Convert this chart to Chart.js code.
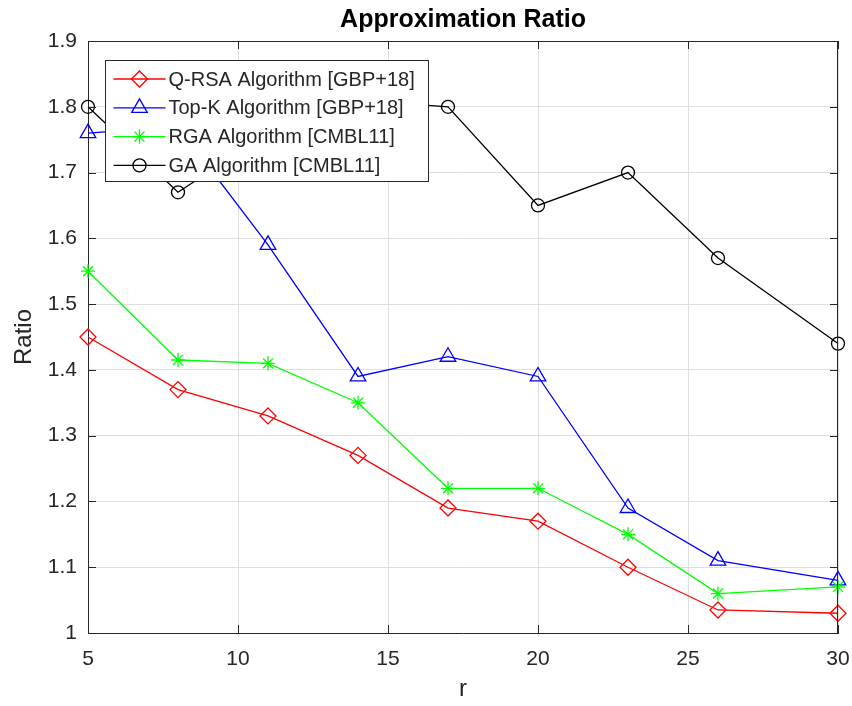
<!DOCTYPE html>
<html>
<head>
<meta charset="utf-8">
<title>Approximation Ratio</title>
<script src="https://cdn.jsdelivr.net/npm/chart.js@4.4.1/dist/chart.umd.min.js"></script>
<style>
  html, body { margin: 0; padding: 0; background: #fff; }
  #wrap { width: 852px; height: 706px; }
</style>
</head>
<body>
<div id="wrap"><canvas id="ratioChart" width="852" height="706"></canvas></div>
<script>
// r values on the x axis
const rValues = [5, 8, 11, 14, 17, 20, 23, 26, 30];

// approximation ratio per algorithm
const qrsaRatio = [1.45, 1.37, 1.33, 1.27, 1.19, 1.17, 1.10, 1.035, 1.03];
const topkRatio = [1.76, 1.77, 1.59, 1.39, 1.42, 1.39, 1.19, 1.11, 1.08];
const rgaRatio = [1.55, 1.415, 1.41, 1.35, 1.22, 1.22, 1.15, 1.06, 1.07];
const gaRatio = [1.80, 1.67, 1.76, 1.81, 1.80, 1.65, 1.70, 1.57, 1.44];

const xTicks = [5, 10, 15, 20, 25, 30];
const yTicks = [1.0, 1.1, 1.2, 1.3, 1.4, 1.5, 1.6, 1.7, 1.8, 1.9];

const chartTitle = "Approximation Ratio";

const FONT = "'Liberation Sans', Arial, Helvetica, sans-serif";
const AXIS_COLOR = "#262626";

function toPoints(values) {
  return rValues.map((r, i) => ({ x: r, y: values[i] }));
}

function series(label, values, color, pointStyle, radius, order) {
  return {
    label: label,
    data: toPoints(values),
    borderColor: color,
    borderWidth: 1.3,
    pointStyle: pointStyle,
    pointRadius: radius,
    pointBorderColor: color,
    pointBackgroundColor: "rgba(0,0,0,0)",
    pointBorderWidth: 1.3,
    tension: 0,
    clip: false,
    order: order,
  };
}

// title centred over the plot area, box round it and inward tick marks
const framePlugin = {
  id: "frame",
  afterDraw(chart) {
    const { ctx, chartArea: a } = chart;
    const xs = chart.scales.x, ys = chart.scales.y;
    const len = 8;
    ctx.save();
    ctx.fillStyle = "#000";
    ctx.font = "bold 25px " + FONT;
    ctx.textAlign = "center";
    ctx.textBaseline = "middle";
    ctx.fillText(chartTitle, (a.left + a.right) / 2, a.top - 21);

    ctx.strokeStyle = AXIS_COLOR;
    ctx.lineWidth = 1;
    ctx.beginPath();
    ctx.moveTo(a.left, a.top + 0.5);
    ctx.lineTo(a.right, a.top + 0.5);
    ctx.moveTo(a.right - 0.5, a.top);
    ctx.lineTo(a.right - 0.5, a.bottom);
    xTicks.forEach((v) => {
      const px = Math.round(xs.getPixelForValue(v)) + 0.5;
      ctx.moveTo(px, a.bottom);
      ctx.lineTo(px, a.bottom - len);
      ctx.moveTo(px, a.top);
      ctx.lineTo(px, a.top + len);
    });
    yTicks.forEach((v) => {
      const py = Math.round(ys.getPixelForValue(v)) + 0.5;
      ctx.moveTo(a.left, py);
      ctx.lineTo(a.left + len, py);
      ctx.moveTo(a.right, py);
      ctx.lineTo(a.right - len, py);
    });
    ctx.stroke();
    ctx.restore();
  },
};

// legend box drawn inside the upper left of the plot
const insideLegend = {
  id: "insideLegend",
  afterDraw(chart) {
    const { ctx, chartArea: a } = chart;
    const datasets = chart.data.datasets;
    ctx.save();
    ctx.font = "20px " + FONT;
    const textW = Math.max(...datasets.map((d) => ctx.measureText(d.label).width));
    const x0 = Math.round(a.left + 17) + 0.5;
    const y0 = Math.round(a.top + 19) + 0.5;
    const rowH = 28.8;
    const w = Math.round(63 + textW + 14);
    const h = Math.round(18.5 + rowH * (datasets.length - 1) + 16);
    ctx.fillStyle = "#fff";
    ctx.fillRect(x0, y0, w, h);
    ctx.strokeStyle = AXIS_COLOR;
    ctx.lineWidth = 1;
    ctx.strokeRect(x0, y0, w, h);

    datasets.forEach((d, i) => {
      const cy = y0 + 18.5 + i * rowH;
      ctx.strokeStyle = d.borderColor;
      ctx.lineWidth = d.borderWidth;
      ctx.beginPath();
      ctx.moveTo(x0 + 8, cy);
      ctx.lineTo(x0 + 60, cy);
      ctx.stroke();
      ctx.fillStyle = "rgba(0,0,0,0)";
      Chart.helpers.drawPoint(ctx, {
        pointStyle: d.pointStyle,
        radius: d.pointRadius,
        borderWidth: d.pointBorderWidth,
        rotation: 0,
      }, x0 + 34, cy);
      ctx.fillStyle = AXIS_COLOR;
      ctx.textBaseline = "middle";
      ctx.textAlign = "left";
      ctx.fillText(d.label, x0 + 63, cy + 1);
    });
    ctx.restore();
  },
};

const ctx = document.getElementById("ratioChart").getContext("2d");

const ratioChart = new Chart(ctx, {
  type: "line",
  data: {
    datasets: [
      series("Q-RSA Algorithm [GBP+18]", qrsaRatio, "#ff0000", "rectRot", 8, 4),
      series("Top-K Algorithm [GBP+18]", topkRatio, "#0000ff", "triangle", 9, 3),
      series("RGA Algorithm [CMBL11]", rgaRatio, "#00ff00", "star", 7, 2),
      series("GA Algorithm [CMBL11]", gaRatio, "#000000", "circle", 6.5, 1),
    ],
  },
  options: {
    responsive: false,
    animation: false,
    devicePixelRatio: 1,
    layout: { padding: { left: 0, right: 0, top: 41, bottom: 0 } },
    plugins: {
      legend: { display: false },
      tooltip: { enabled: false },
      title: { display: false },
    },
    scales: {
      x: {
        type: "linear",
        min: 5,
        max: 30,
        afterBuildTicks: (scale) => {
          scale.ticks = xTicks.map((v) => ({ value: v }));
        },
        afterFit: (scale) => {
          scale.height = 73;
          scale.paddingLeft = 0;
          scale.paddingRight = 14;
        },
        grid: { color: "#dfdfdf", lineWidth: 1, drawTicks: false },
        border: { color: AXIS_COLOR, width: 1 },
        ticks: {
          padding: 14,
          color: AXIS_COLOR,
          autoSkip: false,
          maxRotation: 0,
          font: { family: FONT, size: 21 },
        },
        title: {
          display: true,
          text: "r",
          color: AXIS_COLOR,
          font: { family: FONT, size: 24 },
          padding: { top: 0, bottom: 2 },
        },
      },
      y: {
        type: "linear",
        min: 1,
        max: 1.9,
        afterBuildTicks: (scale) => {
          scale.ticks = yTicks.map((v) => ({ value: v }));
        },
        afterFit: (scale) => {
          scale.width = 88;
        },
        grid: { color: "#dfdfdf", lineWidth: 1, drawTicks: false },
        border: { color: AXIS_COLOR, width: 1 },
        ticks: {
          padding: 11,
          color: AXIS_COLOR,
          font: { family: FONT, size: 21 },
          callback: (v) => String(Number(v.toFixed(1))),
        },
        title: {
          display: true,
          text: "Ratio",
          color: AXIS_COLOR,
          font: { family: FONT, size: 24 },
          padding: { top: 10, bottom: 0 },
        },
      },
    },
  },
  plugins: [framePlugin, insideLegend],
});
</script>
</body>
</html>
